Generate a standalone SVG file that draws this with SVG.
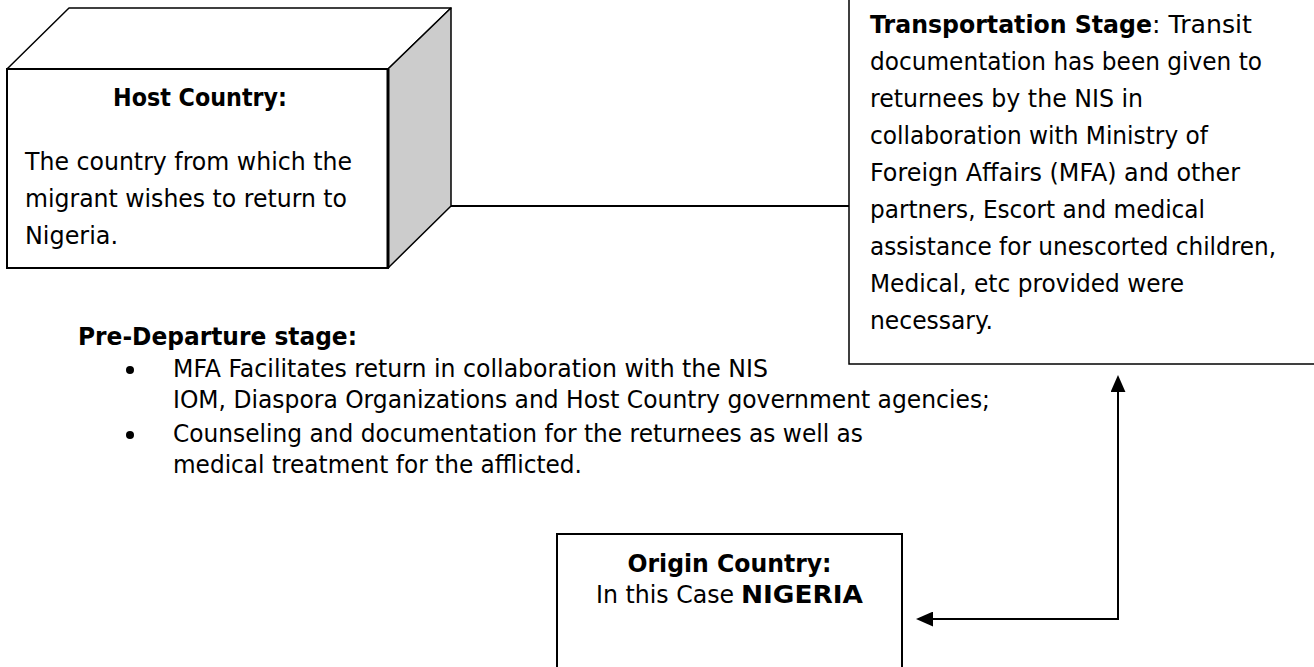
<svg xmlns="http://www.w3.org/2000/svg" width="1314" height="667" viewBox="0 0 1314 667">
<style>
text{font-family:"DejaVu Sans","Verdana",sans-serif;font-size:24px;fill:#000}
.b{font-weight:bold}
.p{font-size:25px}
.box{fill:#fff;stroke:#000;stroke-width:2}
.ln{fill:none;stroke:#000;stroke-width:2}
</style>
<defs>
<marker id="ah" markerUnits="userSpaceOnUse" markerWidth="17" markerHeight="15" refX="0" refY="7" orient="auto-start-reverse" viewBox="0 0 16 14">
<path d="M0,0 L16,7 L0,14 z" fill="#000"/>
</marker>
</defs>
<rect width="1314" height="667" fill="#fff"/>
<g id="connectors">
<line class="ln" x1="451" y1="206" x2="849" y2="206"/>
<path class="ln" d="M1118,392 V619 H933" marker-start="url(#ah)" marker-end="url(#ah)"/>
</g>
<g id="host-country">
<polygon points="7,69 69,8 451,8 388,69" fill="#fff" stroke="#000" stroke-width="1.5" stroke-linejoin="round"/>
<polygon points="388,69 451,8 451,206 388,268" fill="#cccccc" stroke="#000" stroke-width="1.5" stroke-linejoin="round"/>
<rect class="box" x="7" y="69" width="381" height="199"/>
<line x1="388" y1="69" x2="388" y2="268" stroke="#000" stroke-width="3"/>
<text class="b" x="200" y="106" text-anchor="middle" textLength="174" lengthAdjust="spacingAndGlyphs">Host Country:</text>
<text x="25" y="170" textLength="327" lengthAdjust="spacingAndGlyphs">The country from which the</text>
<text x="25" y="207" textLength="322" lengthAdjust="spacingAndGlyphs">migrant wishes to return to</text>
<text x="25" y="244" textLength="93" lengthAdjust="spacingAndGlyphs">Nigeria.</text>
</g>
<g id="transportation-stage">
<rect x="849" y="-10" width="480" height="374" fill="#fff" stroke="#000" stroke-width="1.5"/>
<text class="b" x="870" y="33" textLength="282" lengthAdjust="spacingAndGlyphs">Transportation Stage</text>
<text x="1152" y="33" textLength="100" lengthAdjust="spacingAndGlyphs">: Transit</text>
<text x="870" y="70" textLength="392" lengthAdjust="spacingAndGlyphs">documentation has been given to</text>
<text x="870" y="107" textLength="273" lengthAdjust="spacingAndGlyphs">returnees by the NIS in</text>
<text x="870" y="144" textLength="338" lengthAdjust="spacingAndGlyphs">collaboration with Ministry of</text>
<text x="870" y="181" textLength="370" lengthAdjust="spacingAndGlyphs">Foreign Affairs (MFA) and other</text>
<text x="870" y="218" textLength="335" lengthAdjust="spacingAndGlyphs">partners, Escort and medical</text>
<text x="870" y="255" textLength="406" lengthAdjust="spacingAndGlyphs">assistance for unescorted children,</text>
<text x="870" y="292" textLength="314" lengthAdjust="spacingAndGlyphs">Medical, etc provided were</text>
<text x="870" y="329" textLength="123" lengthAdjust="spacingAndGlyphs">necessary.</text>
</g>
<g id="pre-departure-stage">
<text class="b p" x="78" y="345" textLength="279" lengthAdjust="spacingAndGlyphs">Pre-Departure stage:</text>
<circle cx="130" cy="370" r="4"/>
<text class="p" x="173" y="377" textLength="595" lengthAdjust="spacingAndGlyphs">MFA Facilitates return in collaboration with the NIS</text>
<text class="p" x="173" y="408" textLength="817" lengthAdjust="spacingAndGlyphs">IOM, Diaspora Organizations and Host Country government agencies;</text>
<circle cx="130" cy="435" r="4"/>
<text class="p" x="173" y="442" textLength="690" lengthAdjust="spacingAndGlyphs">Counseling and documentation for the returnees as well as</text>
<text class="p" x="173" y="473" textLength="409" lengthAdjust="spacingAndGlyphs">medical treatment for the afflicted.</text>
</g>
<g id="origin-country">
<rect class="box" x="557" y="534" width="345" height="200"/>
<text class="b" x="729.5" y="572" text-anchor="middle" textLength="204" lengthAdjust="spacingAndGlyphs">Origin Country:</text>
<text x="596" y="603" textLength="138" lengthAdjust="spacingAndGlyphs">In this Case</text>
<text class="b" x="741" y="603" textLength="122" lengthAdjust="spacingAndGlyphs">NIGERIA</text>
</g>
</svg>
